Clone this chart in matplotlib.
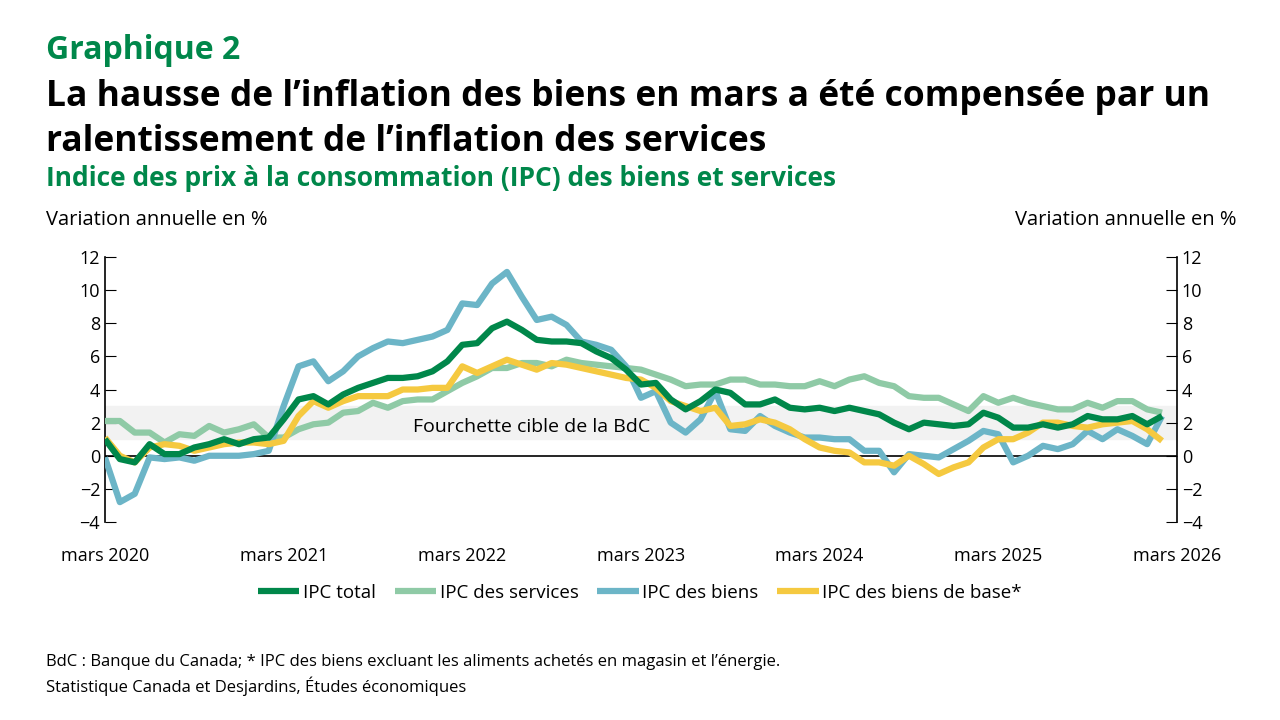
import matplotlib.pyplot as plt
import numpy as np

total = [1.0,-0.2,-0.4,0.7,0.1,0.1,0.5,0.7,1.0,0.7,1.0,1.1,
         2.2,3.4,3.6,3.1,3.7,4.1,4.4,4.7,4.7,4.8,5.1,5.7,
         6.7,6.8,7.7,8.1,7.6,7.0,6.9,6.9,6.8,6.3,5.9,5.2,
         4.3,4.4,3.4,2.8,3.3,4.0,3.8,3.1,3.1,3.4,2.9,2.8,
         2.9,2.7,2.9,2.7,2.5,2.0,1.6,2.0,1.9,1.8,1.9,2.6,
         2.3,1.7,1.7,1.9,1.7,1.9,2.4,2.2,2.2,2.4,1.9,2.4]
services = [2.1,2.1,1.4,1.4,0.8,1.3,1.2,1.8,1.4,1.6,1.9,1.1,
            1.1,1.6,1.9,2.0,2.6,2.7,3.2,2.9,3.3,3.4,3.4,3.9,
            4.4,4.8,5.3,5.3,5.6,5.6,5.4,5.8,5.6,5.5,5.4,5.3,
            5.2,4.9,4.6,4.2,4.3,4.3,4.6,4.6,4.3,4.3,4.2,4.2,
            4.5,4.2,4.6,4.8,4.4,4.2,3.6,3.5,3.5,3.1,2.7,3.6,
            3.2,3.5,3.2,3.0,2.8,2.8,3.2,2.9,3.3,3.3,2.8,2.6]
goods = [-0.1,-2.8,-2.3,-0.1,-0.2,-0.1,-0.3,0.0,0.0,0.0,0.1,0.3,
         3.0,5.4,5.7,4.5,5.1,6.0,6.5,6.9,6.8,7.0,7.2,7.6,
         9.2,9.1,10.4,11.1,9.6,8.2,8.4,7.9,6.9,6.7,6.4,5.4,
         3.5,3.9,2.0,1.4,2.2,3.9,1.6,1.5,2.4,1.8,1.4,1.1,
         1.1,1.0,1.0,0.3,0.3,-1.0,0.1,0.0,-0.1,0.4,0.9,1.5,
         1.3,-0.4,0.0,0.6,0.4,0.7,1.5,1.0,1.6,1.2,0.7,2.4]
core_goods = [1.1,0.0,-0.4,0.5,0.7,0.6,0.3,0.5,0.7,0.8,0.8,0.7,
              0.9,2.4,3.3,2.9,3.3,3.6,3.6,3.6,4.0,4.0,4.1,4.1,
              5.4,5.0,5.4,5.8,5.5,5.2,5.6,5.5,5.3,5.1,4.9,4.7,
              4.6,4.1,3.3,3.0,2.7,2.9,1.8,1.9,2.2,2.0,1.6,1.0,
              0.5,0.3,0.2,-0.4,-0.4,-0.6,0.0,-0.5,-1.1,-0.7,-0.4,0.5,
              1.0,1.0,1.4,2.0,2.0,1.8,1.7,1.9,2.0,2.1,1.6,0.9]
tick_labels = ["mars 2020","mars 2021","mars 2022","mars 2023","mars 2024","mars 2025","mars 2026"]
yticks = [-4,-2,0,2,4,6,8,10,12]

fig = plt.figure(figsize=(12.8,7.2), dpi=100)
plt.rcParams['font.family'] = ['Open Sans', 'DejaVu Sans']
ax = fig.add_axes([0.082,0.275,0.8375,0.368])
ax.axhspan(1,3,color='#f2f2f2',zorder=0)
ax.axhline(0,color='black',lw=1.2,zorder=1)
ax.text(36.6,1.75,"Fourchette cible de la BdC",ha='right',va='center',fontsize=14,zorder=2)
series = [(services,'#8fcaa6','IPC des services'),(goods,'#6cb5c7','IPC des biens'),
          (core_goods,'#f5c940','IPC des biens de base*'),(total,'#00874a','IPC total')]
lines = {}
for vals,c,lab in series:
    x = np.arange(len(vals))
    l, = ax.plot(x,vals,color=c,lw=4.5,label=lab,zorder=3,solid_capstyle='butt')
    lines[lab]=l
ax.set_xlim(0,72)
ax.set_ylim(-4,12)
ax.set_xticks(np.arange(0,73,12))
ax.set_xticklabels(tick_labels,fontsize=13)
ax.tick_params(axis='x',length=0,pad=18)
ax.set_yticks(yticks)
ax.tick_params(axis='y',labelsize=13,direction='in',length=8,right=True,labelright=True)
for s in ['top','bottom']:
    ax.spines[s].set_visible(False)
ax.spines['left'].set_linewidth(1.2); ax.spines['right'].set_linewidth(1.2)
order = ['IPC total','IPC des services','IPC des biens','IPC des biens de base*']
fig.legend([lines[k] for k in order],order,loc='center',bbox_to_anchor=(0.5,0.177),ncol=4,frameon=False,
           fontsize=13.5,handlelength=2.2,columnspacing=1.0,handletextpad=0.2)
fig.text(0.036,0.93,"Graphique 2",fontsize=23,fontweight='bold',color='#00874a',va='center')
fig.text(0.036,0.865,"La hausse de l\u2019inflation des biens en mars a été compensée par un",fontsize=25.5,fontweight='bold',va='center')
fig.text(0.036,0.803,"ralentissement de l\u2019inflation des services",fontsize=25.5,fontweight='bold',va='center')
fig.text(0.036,0.752,"Indice des prix à la consommation (IPC) des biens et services",fontsize=19,fontweight='bold',color='#00874a',va='center')
fig.text(0.036,0.694,"Variation annuelle en %",fontsize=14.5,va='center')
fig.text(0.966,0.694,"Variation annuelle en %",fontsize=14.5,va='center',ha='right')
fig.text(0.036,0.08,"BdC : Banque du Canada; * IPC des biens excluant les aliments achetés en magasin et l\u2019énergie.",fontsize=12,va='center')
fig.text(0.036,0.047,"Statistique Canada et Desjardins, Études économiques",fontsize=12,va='center')
fig.savefig('out.png',dpi=100)
